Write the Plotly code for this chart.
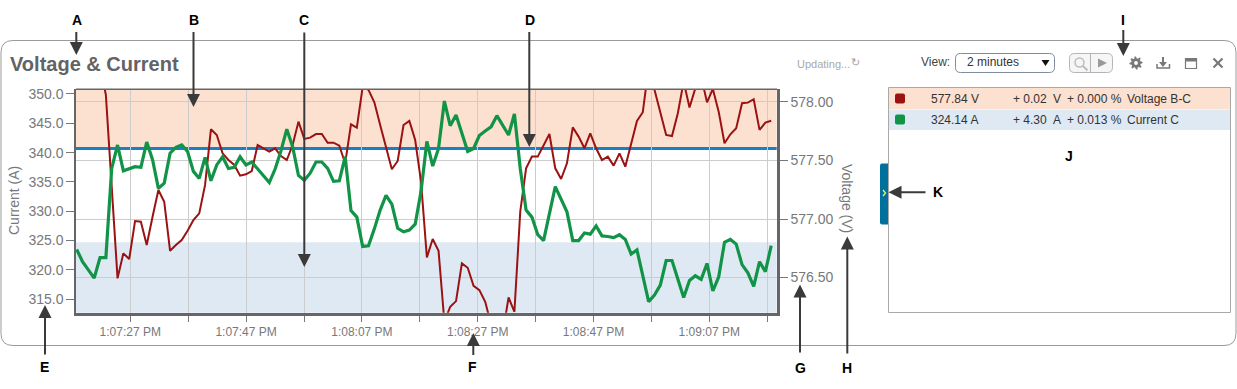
import math
import pandas as pd
import plotly.graph_objects as go

W, H = 1237, 389

# ---------- data ----------
sample_start = "2024-01-01 13:07:17.740"
sample_period = "1008ms"
sample_count = 120

voltage_bc = [
    None, None, None, None, 578.308, 578.06, None, 576.493, 576.707, 576.658,
    576.983, 576.977, 576.778, 577.020, 577.248, 577.148, 576.729, 576.778, 576.821, 576.900,
    576.991, 577.048, 577.291, 577.766, 577.718, 577.561, 577.504, 577.462, 577.370, 577.382,
    577.410, 577.632, 577.604, 577.575, 577.604, 577.538, 577.504, 577.632, 577.832, 577.684,
    577.695, 577.726, 577.726, 577.652, 577.652, 577.627, 577.476, 577.809, 577.781, 578.128,
    578.103, 577.997, 577.803, None, 577.425, 577.496, 577.803, 577.838, 577.675, 577.319,
    576.672, 576.829, 576.729, 576.123, 576.251, 576.299, 576.621, 576.584, 576.430, 576.393,
    576.293, 576.100, 575.980, 576.023, 576.330, 576.208, 577.063, 577.433, 577.533, 577.533,
    577.632, 577.726, 577.433, 577.342, 577.476, 577.783, 577.704, 577.604, 577.732, 577.604,
    577.504, 577.533, 577.456, 577.561, 577.447, 577.638, 577.838, 577.912, 578.302, 578.105,
    577.917, 577.718, 577.709, 577.903, 578.174, 577.952, 578.117, 578.217, 577.997, 578.111,
    577.917, 577.647, 577.724, 577.775, 577.989, 577.994, 578.023, 577.761, 577.823, 577.84,
]
current_c = [
    323.5, 321.4, 320.0, 318.6, 322.1, 322.1, 337.3, 341.3, 336.9, 337.2,
    337.6, 337.5, 341.8, 338.8, 333.9, 334.8, 339.9, 340.9, 341.3, 340.2,
    336.8, 335.6, 339.2, 335.2, 337.9, 339.3, 337.3, 337.5, 339.3, 337.9,
    338.4, None, None, 334.9, 337.2, 340.3, 344.0, 341.0, 336.1, 335.3,
    336.5, 338.4, 338.4, 337.3, 335.1, 335.2, 339.3, 330.1, 329.0, 324.0,
    324.1, 327.0, 330.2, 332.7, 331.2, 327.1, 326.5, 326.8, 327.8, 333.4,
    341.9, 337.7, 340.7, 348.8, 344.6, 346.4, None, 340.2, 340.7, 342.9,
    343.7, 344.4, 346.3, None, 343.0, 346.6, 337.3, 330.2, 329.0, 326.0,
    325.0, None, 334.2, None, 329.9, 325.0, 325.0, 326.3, 326.1, 327.5,
    325.8, 325.7, 325.5, 326.0, 325.2, 322.7, 323.4, None, 314.6, 315.7,
    317.4, 321.6, 321.6, None, 315.3, 318.2, 319.0, 318.4, 321.1, 316.4,
    318.8, 324.7, 325.2, 324.4, 320.9, 319.5, 317.2, 321.4, 319.7, 324.14,
]
high_limit_a = 340.7
low_limit_a = 324.7

time_ticks = ["2024-01-01 13:07:27", "2024-01-01 13:07:37", "2024-01-01 13:07:47", "2024-01-01 13:07:57",
              "2024-01-01 13:08:07", "2024-01-01 13:08:17", "2024-01-01 13:08:27", "2024-01-01 13:08:37",
              "2024-01-01 13:08:47", "2024-01-01 13:08:57", "2024-01-01 13:09:07", "2024-01-01 13:09:17"]
time_labels = ["1:07:27 PM", "", "1:07:47 PM", "", "1:08:07 PM", "", "1:08:27 PM", "",
               "1:08:47 PM", "", "1:09:07 PM", ""]
current_ticks = [315, 320, 325, 330, 335, 340, 345, 350]
voltage_ticks = [576.5, 577.0, 577.5, 578.0]

legend_rows = [
    ("577.84 V", "+ 0.02", "V", "+ 0.000 %", "Voltage B-C"),
    ("324.14 A", "+ 4.30", "A", "+ 0.013 %", "Current C"),
]

# ---------- style ----------
FONT = "Liberation Sans, Arial, sans-serif"
RED, GREEN = "#9a1212", "#119447"
PEACH, PALE_BLUE = "#fce0d0", "#dfe9f3"
TICK = "#77787b"
FRAME = "#666668"

times = pd.date_range(sample_start, periods=sample_count, freq=sample_period)


def px(x):
    return x / W


def py(y):
    return 1 - y / H


shapes, annotations = [], []


def rect(x0, y0, x1, y1, fill="rgba(0,0,0,0)", line=None, width=1):
    shapes.append(dict(type="rect", xref="paper", yref="paper", x0=px(x0), x1=px(x1), y0=py(y0), y1=py(y1),
                       fillcolor=fill, line=dict(color=line or "rgba(0,0,0,0)", width=width if line else 0),
                       layer="above"))


def rrect(x0, y0, x1, y1, r, fill="rgba(0,0,0,0)", line=None, width=1, layer="above", corners="tl tr br bl"):
    c = corners.split()
    p = lambda x, y: f"{px(x):.6f},{py(y):.6f}"
    rtl, rtr, rbr, rbl = [(r if k in c else 0) for k in ("tl", "tr", "br", "bl")]
    path = (f"M{p(x0 + rtl, y0)} L{p(x1 - rtr, y0)} Q{p(x1, y0)} {p(x1, y0 + rtr)} "
            f"L{p(x1, y1 - rbr)} Q{p(x1, y1)} {p(x1 - rbr, y1)} "
            f"L{p(x0 + rbl, y1)} Q{p(x0, y1)} {p(x0, y1 - rbl)} "
            f"L{p(x0, y0 + rtl)} Q{p(x0, y0)} {p(x0 + rtl, y0)} Z")
    shapes.append(dict(type="path", xref="paper", yref="paper", path=path, fillcolor=fill,
                       line=dict(color=line or "rgba(0,0,0,0)", width=width if line else 0), layer=layer))


def poly(points, fill=None, line=None, width=1, close=False):
    d = "M" + " L".join(f"{px(x):.6f},{py(y):.6f}" for x, y in points) + (" Z" if close else "")
    shapes.append(dict(type="path", xref="paper", yref="paper", path=d, fillcolor=fill or "rgba(0,0,0,0)",
                       line=dict(color=line or "rgba(0,0,0,0)", width=width if line else 0), layer="above"))


def circle(cx, cy, r, fill="rgba(0,0,0,0)", line=None, width=1):
    shapes.append(dict(type="circle", xref="paper", yref="paper", x0=px(cx - r), x1=px(cx + r),
                       y0=py(cy - r), y1=py(cy + r), fillcolor=fill,
                       line=dict(color=line or "rgba(0,0,0,0)", width=width if line else 0), layer="above"))


def text(x, y, s, size=12, color="#333333", bold=False, anchor="left", angle=0):
    annotations.append(dict(xref="paper", yref="paper", x=px(x - 1 if anchor == "left" else x), y=py(y),
                            text=f"<b>{s}</b>" if bold else s,
                            showarrow=False, xanchor=anchor, yanchor="middle", textangle=angle,
                            font=dict(family=FONT, size=size, color=color), borderpad=0))


def arrow(x0, y0, x1, y1):
    annotations.append(dict(xref="paper", yref="paper", x=px(x1), y=py(y1), axref="pixel", ayref="pixel",
                            ax=x0 - x1, ay=y0 - y1, text="", showarrow=True, arrowhead=2, arrowsize=1.3,
                            arrowwidth=2, arrowcolor="#3a3a3a", standoff=0))


# panel
rrect(1, 40.5, 1236, 345.5, 12, fill="white", line="#9a9a9a", width=1, layer="below")
text(10, 64, "Voltage &amp; Current", size=20, color="#626366", bold=True)

# chart bands and limit line, tied to the current axis
shapes.append(dict(type="rect", xref="x domain", yref="y2", x0=0, x1=1, y0=high_limit_a, y1=360,
                   fillcolor=PEACH, line=dict(width=0), layer="below"))
shapes.append(dict(type="rect", xref="x domain", yref="y2", x0=0, x1=1, y0=300, y1=low_limit_a,
                   fillcolor=PALE_BLUE, line=dict(width=0), layer="below"))
shapes.append(dict(type="line", xref="x domain", yref="y2", x0=0, x1=1, y0=high_limit_a, y1=high_limit_a,
                   line=dict(color="#1b7fc6", width=3), layer="below"))
# top edge of plot
shapes.append(dict(type="line", xref="paper", yref="paper", x0=px(76), x1=px(777), y0=py(89.3), y1=py(89.3),
                   line=dict(color=FRAME, width=1.5), layer="above"))

# toolbar
text(796.5, 64, "Updating...", size=11, color="#a9a9a9")
text(855.5, 62.5, "↻", size=11, color="#a0a0a0", anchor="center")
text(921, 62.5, "View:", size=12, color="#444444")
rrect(955.5, 53.5, 1054.5, 72.5, 5, fill="white", line="#7d8b9c")
text(967, 62.5, "2 minutes", size=12, color="#333333")
poly([(1041.5, 60), (1049.5, 60), (1045.5, 66)], fill="#111111", close=True)
rrect(1069.5, 53.5, 1112.5, 72.5, 5, fill="#f6f6f6", line="#b5b5b5")
poly([(1090.5, 53.5), (1090.5, 72.5)], line="#b5b5b5")
circle(1079.5, 62.5, 4.5, line="#bdbdbd", width=1.5)
poly([(1083, 66), (1087.5, 70.5)], line="#bdbdbd", width=2)
poly([(1098, 58.5), (1098, 67.5), (1107, 63)], fill="#9a9a9a", close=True)

# tool icons
gear_cx, gear_cy = 1136, 63
gear_pts = []
for k in range(32):
    a = k * math.pi / 16
    r = 6.6 if k % 4 in (0, 1) else 4.7
    gear_pts.append((gear_cx + r * math.cos(a - 0.2), gear_cy + r * math.sin(a - 0.2)))
poly(gear_pts, fill="#77787b", close=True)
circle(gear_cx, gear_cy, 1.9, fill="white")
poly([(1163, 57), (1163, 65)], line="#77787b", width=2)
poly([(1159, 62), (1167, 62), (1163, 67)], fill="#77787b", close=True)
poly([(1157, 64), (1157, 68), (1169.5, 68), (1169.5, 64)], line="#77787b", width=1.5)
rect(1185.5, 58.5, 1196.5, 68.5, line="#77787b", width=1.2)
rect(1185, 58, 1197, 61.5, fill="#77787b")
poly([(1213.5, 58.5), (1222.5, 67.5)], line="#77787b", width=2.2)
poly([(1222.5, 58.5), (1213.5, 67.5)], line="#77787b", width=2.2)

# legend box
rect(888.5, 87.5, 1230.5, 312.5, fill="white", line="#a9a9a9")
rect(889, 88, 1230, 109, fill=PEACH)
rect(889, 109.5, 1230, 130, fill=PALE_BLUE)
for row, color, yc in zip(legend_rows, (RED, GREEN), (98.5, 119.5)):
    rrect(895, yc - 5, 905, yc + 5, 2, fill=color)
    text(931.5, yc, row[0])
    text(1013, yc, row[1])
    text(1053, yc, row[2])
    text(1066.5, yc, row[3])
    text(1127, yc, row[4])

# side handle
rrect(880, 163.5, 888, 224.5, 2, fill="#00709c", corners="tl bl")
poly([(883, 190), (885.5, 193), (883, 196)], line="#e8f06a", width=1.3)

# callout letters and arrows
for s, x, y in [("A", 76.5, 19.5), ("B", 193.5, 19.5), ("C", 304, 19.5), ("D", 530, 19.5), ("I", 1123, 19.5),
                ("E", 44, 367), ("F", 472, 367), ("G", 800, 368), ("H", 847, 368), ("J", 1069, 156), ("K", 938, 192)]:
    text(x, y, s, size=14, color="#000000", bold=True, anchor="center")
for x0, y0, x1, y1 in [(76.3, 30.5, 76.3, 55), (193.5, 30.5, 193.5, 107), (304.3, 31, 304.3, 267),
                       (529.3, 30.5, 529.3, 147), (1123.3, 28.5, 1123.3, 56),
                       (45, 356, 45, 305), (473.3, 356.5, 473.3, 333), (800, 354, 800, 284.5),
                       (847.3, 355, 847.3, 236.5), (927, 192.3, 888.5, 192.3)]:
    arrow(x0, y0, x1, y1)

# axis titles
text(847, 199, "Voltage (V)", size=14, color=TICK, anchor="center", angle=90)
text(14, 201, "Current (A)", size=14, color=TICK, anchor="center", angle=-90)

# ---------- figure ----------
fig = go.Figure()
fig.add_trace(go.Scatter(x=times, y=voltage_bc, name="Voltage B-C", mode="lines", yaxis="y", connectgaps=True,
                         line=dict(color=RED, width=2)))
fig.add_trace(go.Scatter(x=times, y=current_c, name="Current C", mode="lines", yaxis="y2", connectgaps=True,
                         line=dict(color=GREEN, width=3.2)))

tick_font = dict(family=FONT, size=14, color=TICK)
fig.update_layout(
    width=W, height=H, margin=dict(l=0, r=0, t=0, b=0), autosize=False,
    paper_bgcolor="white", plot_bgcolor="rgba(0,0,0,0)", showlegend=False,
    font=dict(family=FONT),
    shapes=shapes, annotations=annotations,
    xaxis=dict(type="date", domain=[px(76), px(776.7)], automargin=False,
               range=["2024-01-01 13:07:17.622", "2024-01-01 13:09:18.640"],
               tickmode="array", tickvals=time_ticks, ticktext=time_labels,
               ticks="outside", ticklen=6, tickcolor=TICK, tickwidth=1,
               tickfont=dict(family=FONT, size=12, color=TICK),
               showgrid=True, gridcolor="#cccccc", gridwidth=1, zeroline=False,
               showline=True, linecolor=FRAME, linewidth=3, anchor="y"),
    yaxis=dict(domain=[py(312.7), py(89.3)], side="right", anchor="x", automargin=False,
               range=[576.2, 578.108], tickmode="array", tickvals=voltage_ticks, tickformat=".2f",
               ticks="outside", ticklen=8, tickcolor=TICK, tickfont=tick_font,
               showgrid=True, gridcolor="#cccccc", gridwidth=1, zeroline=False,
               showline=True, linecolor=FRAME, linewidth=3),
    yaxis2=dict(overlaying="y", side="left", anchor="x", automargin=False,
                range=[312.7, 350.8], tickmode="array", tickvals=current_ticks, tickformat=".1f",
                ticks="outside", ticklen=8, tickcolor=TICK, tickfont=tick_font,
                showgrid=False, zeroline=False,
                showline=True, linecolor=FRAME, linewidth=1.5),
)

fig.write_html("out.html", config=dict(displayModeBar=False),
               post_script="document.body.style.margin='0';document.body.style.overflow='hidden';")
